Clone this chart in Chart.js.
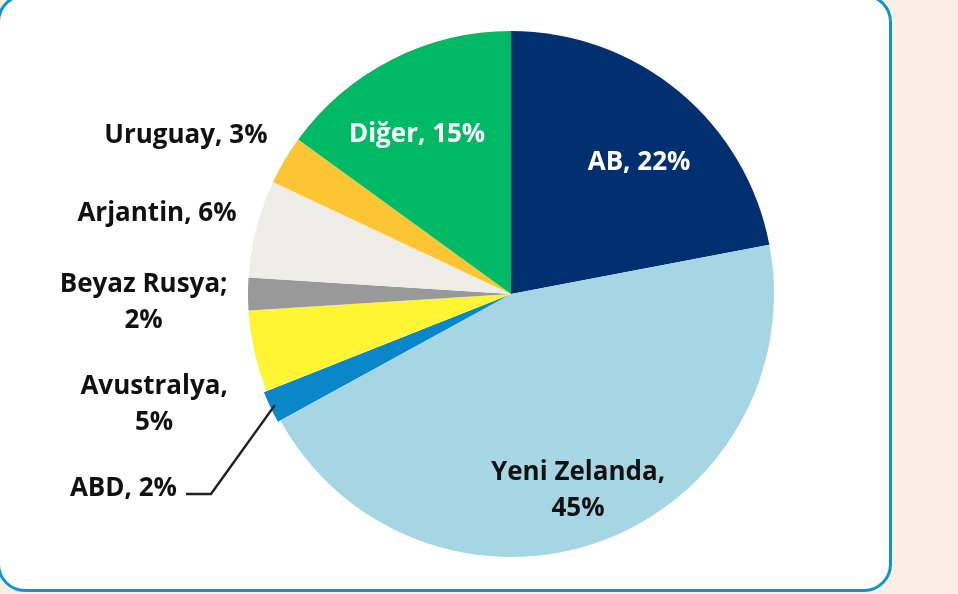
<!DOCTYPE html>
<html>
<head>
<meta charset="utf-8">
<script src="https://cdn.jsdelivr.net/npm/chart.js@4.4.1/dist/chart.umd.min.js"></script>
<style>
  html, body { margin: 0; padding: 0; width: 958px; height: 594px; overflow: hidden; background: #fbeee2; }
  .box { position: absolute; left: -3px; top: -6px; width: 889px; height: 592px; border: 3px solid #0e96cb; border-radius: 28px; background: #fff; }
  #wrap { position: absolute; left: 0; top: 0; width: 958px; height: 594px; }
</style>
</head>
<body>
<div class="box"></div>
<div id="wrap"><canvas id="pie"></canvas></div>
<script>
/* Pie: import shares by country */

const countries = ['AB', 'Yeni Zelanda', 'ABD', 'Avustralya', 'Beyaz Rusya', 'Arjantin', 'Uruguay', 'Diğer'];
const shares    = [22, 45, 2, 5, 2, 6, 3, 15];
const colors    = ['#00306f', '#a6d6e4', '#0a86c9', '#fff533', '#999999', '#efede7', '#fdc433', '#00b964'];
// label text lines (as printed on the chart)
const labelLines = [
  ['AB, 22%'],
  ['Yeni Zelanda,', '45%'],
  ['ABD, 2%'],
  ['Avustralya,', '5%'],
  ['Beyaz Rusya;', '2%'],
  ['Arjantin, 6%'],
  ['Uruguay, 3%'],
  ['Diğer, 15%']
];

// label placement relative to pie centre, in units of radius; align; text colour
const labelPlace = [
  { dx: 0.487,  dy: -0.498, align: 'center', color: '#fff' },
  { dx: 0.255,  dy: 0.749,  align: 'center', color: '#111' },
  { dx: -1.270, dy: 0.741,  align: 'right',  color: '#111', leader: true },
  { dx: -1.357, dy: 0.422,  align: 'center', color: '#111' },
  { dx: -1.397, dy: 0.034,  align: 'center', color: '#111' },
  { dx: -1.346, dy: -0.304, align: 'center', color: '#111' },
  { dx: -1.236, dy: -0.601, align: 'center', color: '#111' },
  { dx: -0.357, dy: -0.605, align: 'center', color: '#fff' }
];

const FONT = 'bold 26px "Open Sans"';
const LINE_H = 36;

const pieLabels = {
  id: 'pieLabels',
  afterDatasetsDraw(chart) {
    const ctx = chart.ctx;
    const meta = chart.getDatasetMeta(0);
    ctx.save();
    ctx.font = FONT;
    ctx.textBaseline = 'middle';
    meta.data.forEach((arc, i) => {
      const p = labelPlace[i];
      const cx = arc.x, cy = arc.y, r = arc.outerRadius;
      const x = cx + p.dx * r;
      const y = cy + p.dy * r;
      const lines = labelLines[i];
      ctx.fillStyle = p.color;
      ctx.textAlign = p.align;
      lines.forEach((t, k) => {
        ctx.fillText(t, x, y + (k - (lines.length - 1) / 2) * LINE_H);
      });
      if (p.leader) {
        const mid = (arc.startAngle + arc.endAngle) / 2;
        const ex = cx + Math.cos(mid) * (r - 2);
        const ey = cy + Math.sin(mid) * (r - 2);
        ctx.strokeStyle = '#222';
        ctx.lineWidth = 2.5;
        ctx.beginPath();
        ctx.moveTo(x + 9, y + 5);
        ctx.lineTo(x + 34, y + 5);
        ctx.lineTo(ex, ey);
        ctx.stroke();
      }
    });
    ctx.restore();
  }
};

new Chart(document.getElementById('pie'), {
  type: 'pie',
  data: {
    labels: countries,
    datasets: [{
      data: shares,
      backgroundColor: colors,
      borderWidth: 0,
      offset: [0, 0, 6, 0, 0, 0, 0, 0],
      radius: 263
    }]
  },
  options: {
    responsive: true,
    maintainAspectRatio: false,
    animation: false,
    layout: { padding: { top: 31, bottom: 37, left: 248, right: 184 } },
    plugins: {
      legend: { display: false },
      tooltip: { enabled: false }
    }
  },
  plugins: [pieLabels]
});
</script>
</body>
</html>
